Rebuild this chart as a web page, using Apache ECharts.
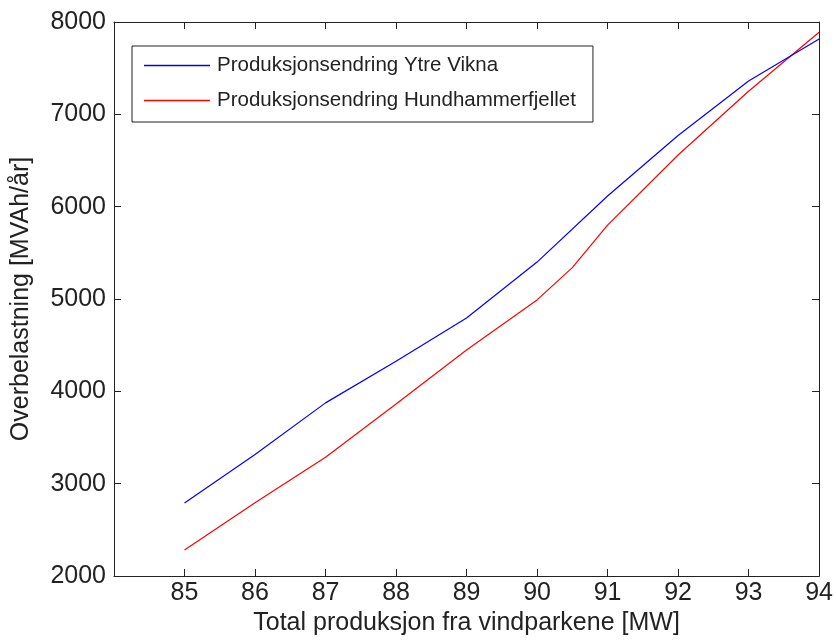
<!DOCTYPE html>
<html>
<head>
<meta charset="utf-8">
<script src="https://cdn.jsdelivr.net/npm/echarts@6/dist/echarts.min.js"></script>
<style>
html,body{margin:0;padding:0;background:#fff;}
#chart{width:836px;height:642px;}
</style>
</head>
<body>
<div id="chart"></div>
<script>
// Data
const xTicks = [85, 86, 87, 88, 89, 90, 91, 92, 93, 94];
const yTicks = [2000, 3000, 4000, 5000, 6000, 7000, 8000];

const vikna_x = [85, 86, 87, 88, 89, 90, 91, 92, 93, 94];
const vikna_y = [2790, 3315, 3875, 4325, 4795, 5400, 6115, 6770, 7360, 7816];

const hund_x = [85, 86, 87, 88, 89, 90, 90.5, 91, 92, 93, 94];
const hund_y = [2282, 2794, 3285, 3863, 4448, 4990, 5340, 5800, 6560, 7250, 7889];

const seriesNames = ['Produksjonsendring Ytre Vikna', 'Produksjonsendring Hundhammerfjellet'];
const xName = 'Total produksjon fra vindparkene [MW]';
const yName = 'Overbelastning [MVAh/år]';

const pairs = (xs, ys) => xs.map((x, i) => [x, ys[i]]);

const FONT = 'Liberation Sans, Arial, Helvetica, sans-serif';
const INK = '#222';

const chart = echarts.init(document.getElementById('chart'), null, {renderer: 'canvas'});

const baseX = {
  type: 'value', min: 84, max: 94, interval: 1,
  splitLine: {show: false},
  axisLine: {show: true, onZero: false, lineStyle: {color: INK, width: 1}},
  axisTick: {show: true, inside: true, length: 7, lineStyle: {color: INK}},
};
const baseY = {
  type: 'value', min: 2000, max: 8000, interval: 1000,
  splitLine: {show: false},
  axisLine: {show: true, onZero: false, lineStyle: {color: INK, width: 1}},
  axisTick: {show: true, inside: true, length: 7, lineStyle: {color: INK}},
};

chart.setOption({
  animation: false,
  backgroundColor: '#fff',
  textStyle: {fontFamily: FONT},
  grid: {left: 114, right: 16, top: 22, bottom: 66, containLabel: false},
  legend: {
    show: true,
    orient: 'vertical',
    left: 132, top: 46,
    padding: [9, 17, 11, 12],
    itemGap: 14,
    itemWidth: 66, itemHeight: 1.5,
    icon: 'rect',
    backgroundColor: '#fff',
    borderColor: INK, borderWidth: 1, borderRadius: 0,
    textStyle: {fontFamily: FONT, fontSize: 20.5, color: INK, lineHeight: 20, padding: [0, 0, 0, 2]},
    data: seriesNames
  },
  xAxis: [
    Object.assign({}, baseX, {
      position: 'bottom',
      name: xName, nameLocation: 'middle', nameGap: 31,
      nameTextStyle: {fontFamily: FONT, fontSize: 25, color: INK},
      axisLabel: {
        show: true, margin: 5, fontFamily: FONT, fontSize: 25, color: INK,
        formatter: v => (xTicks.indexOf(v) >= 0 ? String(v) : '')
      }
    }),
    Object.assign({}, baseX, {position: 'top', axisLabel: {show: false}})
  ],
  yAxis: [
    Object.assign({}, baseY, {
      position: 'left',
      name: yName, nameLocation: 'middle', nameGap: 80, nameRotate: 90,
      nameTextStyle: {fontFamily: FONT, fontSize: 25, color: INK},
      axisLabel: {
        show: true, margin: 8, fontFamily: FONT, fontSize: 25, color: INK,
        formatter: v => (yTicks.indexOf(v) >= 0 ? String(v) : '')
      }
    }),
    Object.assign({}, baseY, {position: 'right', axisLabel: {show: false}})
  ],
  series: [
    {
      name: seriesNames[0], type: 'line', xAxisIndex: 0, yAxisIndex: 0,
      symbol: 'none', smooth: false,
      lineStyle: {color: '#0000ff', width: 1.2},
      itemStyle: {color: '#0000ff'},
      data: pairs(vikna_x, vikna_y), z: 3
    },
    {
      name: seriesNames[1], type: 'line', xAxisIndex: 0, yAxisIndex: 0,
      symbol: 'none', smooth: false,
      lineStyle: {color: '#ff0000', width: 1.2},
      itemStyle: {color: '#ff0000'},
      data: pairs(hund_x, hund_y), z: 2
    }
  ]
});
</script>
</body>
</html>
